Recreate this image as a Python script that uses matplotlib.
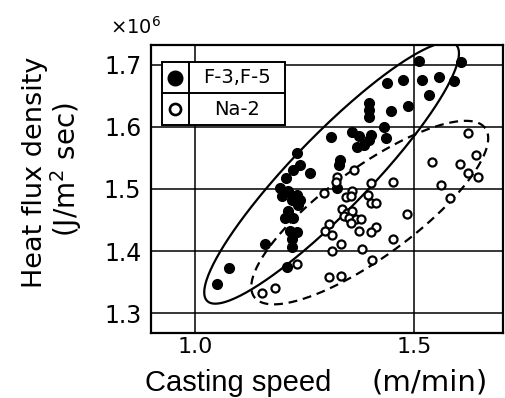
import numpy as np
import matplotlib
matplotlib.use("Agg")
import matplotlib.pyplot as plt
from matplotlib.patches import Rectangle

# F-3,F-5 (filled)
f35_speed = [1.050, 1.079, 1.161, 1.210, 1.232, 1.209, 1.225, 1.241, 1.263,
             1.194, 1.213, 1.232, 1.240, 1.198, 1.221, 1.236, 1.213, 1.206,
             1.225, 1.217, 1.232, 1.221, 1.221, 1.324, 1.332, 1.328, 1.310,
             1.359, 1.374, 1.401, 1.371, 1.385, 1.397, 1.436, 1.431, 1.397,
             1.397, 1.397, 1.447, 1.487, 1.438, 1.474, 1.512, 1.518, 1.556,
             1.592, 1.608, 1.535]
f35_flux = [1.347, 1.373, 1.412, 1.374, 1.558, 1.518, 1.530, 1.538, 1.526,
            1.502, 1.496, 1.491, 1.483, 1.488, 1.483, 1.475, 1.464, 1.454,
            1.454, 1.432, 1.430, 1.419, 1.406, 1.502, 1.547, 1.538, 1.584,
            1.592, 1.586, 1.587, 1.568, 1.571, 1.579, 1.582, 1.600, 1.638,
            1.627, 1.616, 1.626, 1.634, 1.670, 1.676, 1.707, 1.676, 1.680,
            1.674, 1.704, 1.651]

# Na-2 (open)
na2_speed = [1.153, 1.183, 1.233, 1.306, 1.333, 1.294, 1.325, 1.321, 1.363,
             1.401, 1.453, 1.359, 1.344, 1.356, 1.394, 1.401, 1.413, 1.336,
             1.348, 1.359, 1.340, 1.352, 1.367, 1.378, 1.356, 1.375, 1.306,
             1.298, 1.314, 1.333, 1.314, 1.382, 1.404, 1.413, 1.401, 1.485,
             1.451, 1.562, 1.583, 1.623, 1.642, 1.541, 1.604, 1.623, 1.646]
na2_flux = [1.333, 1.341, 1.379, 1.358, 1.360, 1.493, 1.520, 1.512, 1.531,
            1.510, 1.512, 1.496, 1.487, 1.488, 1.491, 1.478, 1.478, 1.467,
            1.462, 1.464, 1.456, 1.454, 1.451, 1.451, 1.446, 1.432, 1.443,
            1.432, 1.426, 1.412, 1.400, 1.404, 1.386, 1.438, 1.431, 1.459,
            1.419, 1.506, 1.486, 1.591, 1.555, 1.544, 1.541, 1.526, 1.520]

# envelopes: center, half major axis vector, half minor axis vector (data units)
solid_env = [(1.312, 1.526), (0.2837, 0.2065), (-0.0627, 0.0422)]
dashed_env = [(1.399, 1.462), (0.2635, 0.1360), (-0.0600, 0.0580)]

x_ticks = [1.0, 1.5]
y_ticks = [1.3, 1.4, 1.5, 1.6, 1.7]


def envelope(env):
    (cx, cy), (ux, uy), (vx, vy) = env
    t = np.linspace(0, 2 * np.pi, 300)
    return cx + ux * np.cos(t) + vx * np.sin(t), cy + uy * np.cos(t) + vy * np.sin(t)


fig = plt.figure(figsize=(5.06, 3.98), dpi=100)
ax = fig.add_axes([151 / 506, 1 - 333 / 398, 352 / 506, 288 / 398])
ax.set_xlim(0.90, 1.703)
ax.set_ylim(1.268, 1.732)

# grid
for xv in x_ticks:
    ax.axvline(xv, color="black", lw=1.1, zorder=1)
for yv in y_ticks:
    ax.axhline(yv, color="black", lw=1.1, zorder=1)

ex, ey = envelope(solid_env)
ax.plot(ex, ey, color="black", lw=1.6, zorder=2)
ex, ey = envelope(dashed_env)
ax.plot(ex, ey, color="black", lw=1.6, ls=(0, (4, 2.6)), zorder=2)

ax.plot(f35_speed, f35_flux, "o", color="black", ms=7, zorder=3)
ax.plot(na2_speed, na2_flux, "o", mfc="white", mec="black", mew=1.6, ms=5.8, zorder=4)

ax.set_xticks(x_ticks)
ax.set_xticklabels(["1.0", "1.5"])
ax.set_yticks(y_ticks)
ax.set_yticklabels(["1.3", "1.4", "1.5", "1.6", "1.7"])
ax.tick_params(length=0, labelsize=17)
ax.tick_params(axis="y", pad=7)
ax.tick_params(axis="x", pad=3, labelsize=16)
for s in ax.spines.values():
    s.set_linewidth(1.6)

# legend drawn as a small table
box_l, box_r, box_b, box_t = 0.031, 0.381, 0.722, 0.941
mid_y, div_x = 0.832, 0.109
ax.add_patch(Rectangle((box_l, box_b), box_r - box_l, box_t - box_b, transform=ax.transAxes,
                       facecolor="white", edgecolor="black", lw=1.4, zorder=5))
ax.plot([box_l, box_r], [mid_y, mid_y], color="black", lw=1.4, transform=ax.transAxes, zorder=6)
ax.plot([div_x, div_x], [box_b, box_t], color="black", lw=1.4, transform=ax.transAxes, zorder=6)
ax.plot([0.068], [0.887], "o", color="black", ms=10.5, transform=ax.transAxes, zorder=7)
ax.plot([0.068], [0.777], "o", mfc="white", mec="black", mew=1.9, ms=8, transform=ax.transAxes, zorder=7)
ax.text(0.245, 0.887, "F-3,F-5", transform=ax.transAxes, ha="center", va="center", fontsize=14, zorder=7)
ax.text(0.245, 0.777, "Na-2", transform=ax.transAxes, ha="center", va="center", fontsize=14, zorder=7)

# labels
fig.text(110 / 506, 1 - 34 / 398, r"$\times$10$^{6}$", fontsize=14, va="baseline", ha="left")
fig.text(35 / 506, 1 - 172 / 398, "Heat flux density", rotation=90, fontsize=19.5, ha="center", va="center")
fig.text(66 / 506, 1 - 170 / 398, "(J/m$^{2}$ sec)", rotation=90, fontsize=20, ha="center", va="center")
fig.text(238 / 506, 1 - 383 / 398, "Casting speed", family="Liberation Sans", fontsize=21, ha="center", va="center")
fig.text(430 / 506, 1 - 382 / 398, "(m/min)", fontsize=21, ha="center", va="center")

fig.savefig("out.png", dpi=100)
